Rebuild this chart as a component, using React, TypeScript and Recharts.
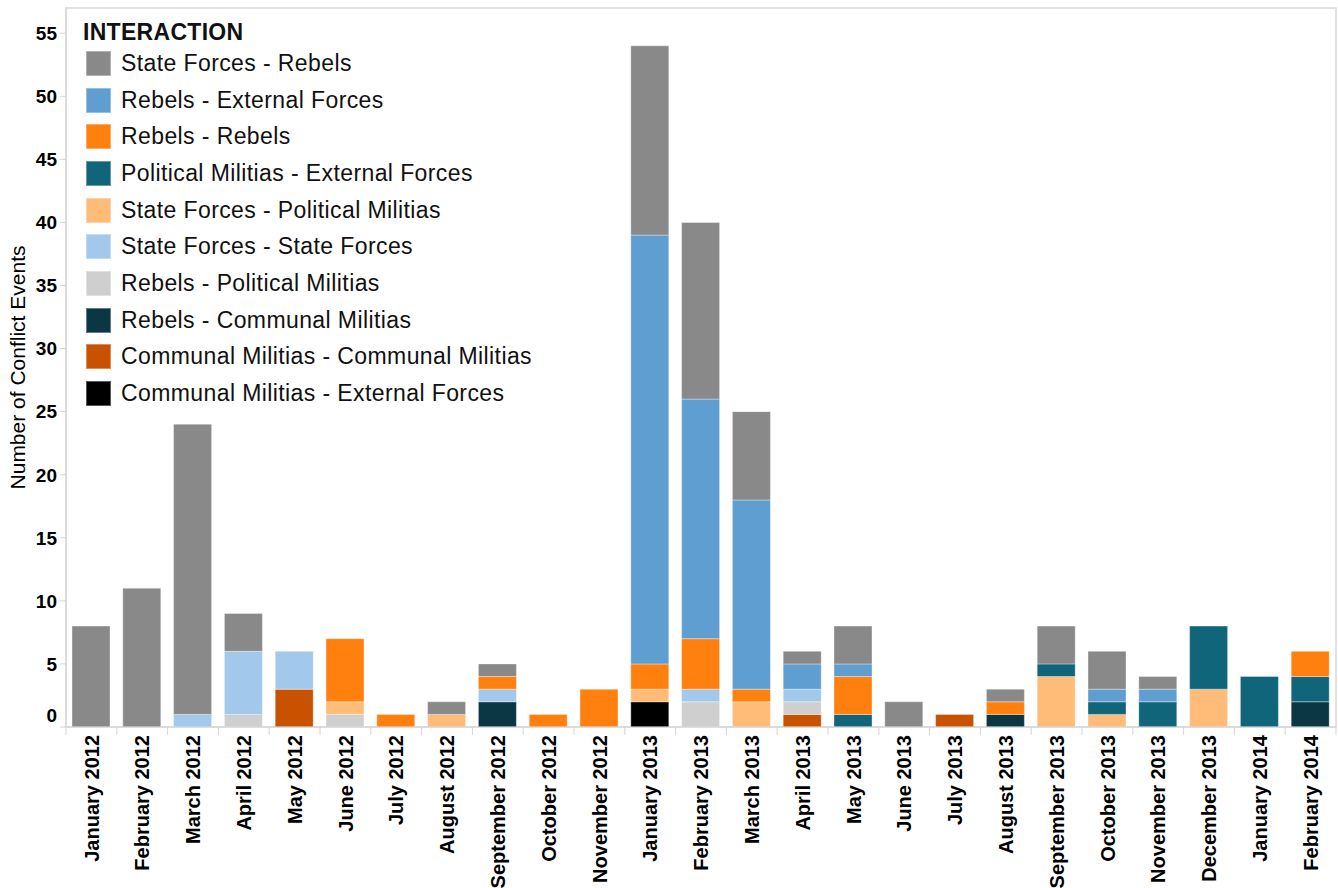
import React from 'react'
import { BarChart, Bar, XAxis, YAxis, Legend, ReferenceArea, Label } from 'recharts'

// months shown on the axis (no December 2012 in the source)
const months = [
  'January 2012', 'February 2012', 'March 2012', 'April 2012', 'May 2012', 'June 2012',
  'July 2012', 'August 2012', 'September 2012', 'October 2012', 'November 2012',
  'January 2013', 'February 2013', 'March 2013', 'April 2013', 'May 2013', 'June 2013',
  'July 2013', 'August 2013', 'September 2013', 'October 2013', 'November 2013',
  'December 2013', 'January 2014', 'February 2014',
]

const stateRebels = [8, 11, 23, 3, 0, 0, 0, 1, 1, 0, 0, 15, 14, 7, 1, 3, 2, 0, 1, 3, 3, 1, 0, 0, 0]
const rebelsExternal = [0, 0, 0, 0, 0, 0, 0, 0, 0, 0, 0, 34, 19, 15, 2, 1, 0, 0, 0, 0, 1, 1, 0, 0, 0]
const rebelsRebels = [0, 0, 0, 0, 0, 5, 1, 0, 1, 1, 3, 2, 4, 1, 0, 3, 0, 0, 1, 0, 0, 0, 0, 0, 2]
const politicalExternal = [0, 0, 0, 0, 0, 0, 0, 0, 0, 0, 0, 0, 0, 0, 0, 1, 0, 0, 0, 1, 1, 2, 5, 4, 2]
const statePolitical = [0, 0, 0, 0, 0, 1, 0, 1, 0, 0, 0, 1, 0, 2, 0, 0, 0, 0, 0, 4, 1, 0, 3, 0, 0]
const stateState = [0, 0, 1, 5, 3, 0, 0, 0, 1, 0, 0, 0, 1, 0, 1, 0, 0, 0, 0, 0, 0, 0, 0, 0, 0]
const rebelsPolitical = [0, 0, 0, 1, 0, 1, 0, 0, 0, 0, 0, 0, 2, 0, 1, 0, 0, 0, 0, 0, 0, 0, 0, 0, 0]
const rebelsCommunal = [0, 0, 0, 0, 0, 0, 0, 0, 2, 0, 0, 0, 0, 0, 0, 0, 0, 0, 1, 0, 0, 0, 0, 0, 2]
const communalCommunal = [0, 0, 0, 0, 3, 0, 0, 0, 0, 0, 0, 0, 0, 0, 1, 0, 0, 1, 0, 0, 0, 0, 0, 0, 0]
const communalExternal = [0, 0, 0, 0, 0, 0, 0, 0, 0, 0, 0, 2, 0, 0, 0, 0, 0, 0, 0, 0, 0, 0, 0, 0, 0]

const yTicks = [0, 5, 10, 15, 20, 25, 30, 35, 40, 45, 50, 55]

// legend order (top to bottom); stacks are drawn in reverse
const series = [
  { key: 'sfReb', name: 'State Forces - Rebels', color: '#898989', values: stateRebels },
  { key: 'rebExt', name: 'Rebels - External Forces', color: '#5F9ED1', values: rebelsExternal },
  { key: 'rebReb', name: 'Rebels - Rebels', color: '#FF800E', values: rebelsRebels },
  { key: 'pmExt', name: 'Political Militias - External Forces', color: '#10657A', values: politicalExternal },
  { key: 'sfPm', name: 'State Forces - Political Militias', color: '#FFBC79', values: statePolitical },
  { key: 'sfSf', name: 'State Forces - State Forces', color: '#A2C8EC', values: stateState },
  { key: 'rebPm', name: 'Rebels - Political Militias', color: '#CFCFCF', values: rebelsPolitical },
  { key: 'rebCm', name: 'Rebels - Communal Militias', color: '#0B3644', values: rebelsCommunal },
  { key: 'cmCm', name: 'Communal Militias - Communal Militias', color: '#C85200', values: communalCommunal },
  { key: 'cmExt', name: 'Communal Militias - External Forces', color: '#000000', values: communalExternal },
]

const data = months.map((m, i) => {
  const row: Record<string, any> = { month: m }
  series.forEach((s) => { row[s.key] = s.values[i] })
  return row
})

const FONT = '"Liberation Sans", Arial, sans-serif'

const renderMonthTick = (props: any) => {
  const { x, y, payload, index } = props
  const half = payload && payload.offset ? payload.offset : 25.4
  const last = index === months.length - 1
  return (
    <g key={`m-${index}`}>
      <line x1={x - half} x2={x - half} y1={y - 8} y2={y} stroke="#d4d4d4" />
      {last && <line x1={x + half} x2={x + half} y1={y - 8} y2={y} stroke="#d4d4d4" />}
      <text
        x={x}
        y={y}
        dy="0.36em"
        transform={`rotate(-90, ${x}, ${y})`}
        textAnchor="end"
        fontFamily={FONT}
        fontWeight="bold"
        fontSize={20}
        fill="#000"
      >
        {payload.value}
      </text>
    </g>
  )
}

const renderCountTick = (props: any) => {
  const { x, y, payload, index } = props
  return (
    <text
      key={`c-${index}`}
      x={x}
      y={payload.value === 0 ? y - 12 : y}
      dy="0.36em"
      textAnchor="end"
      fontFamily={FONT}
      fontWeight="bold"
      fontSize={19}
      fill="#000"
    >
      {payload.value}
    </text>
  )
}

const renderLegend = () => (
  <div style={{ fontFamily: FONT, color: '#111' }}>
    <div style={{ fontWeight: 'bold', fontSize: 23, letterSpacing: 0.3, lineHeight: '26px', marginLeft: -3 }}>INTERACTION</div>
    {series.map((s) => (
      <div key={s.key} style={{ display: 'flex', alignItems: 'center', height: 36.7 }}>
        <div style={{ width: 25, height: 25, background: s.color, boxShadow: 'inset 0 0 0 1px rgba(255,255,255,0.35)' }} />
        <span style={{ fontSize: 23, letterSpacing: 0.4, marginLeft: 10 }}>{s.name}</span>
      </div>
    ))}
  </div>
)

export default function App() {
  const stackOrder = [...series].reverse()
  return (
    <div style={{ position: 'absolute', left: 0, top: 0, background: '#fff' }}>
      <BarChart
        width={1338}
        height={888}
        data={data}
        margin={{ top: 8, right: 2, left: 0, bottom: 0 }}
        barSize={38}
      >
        <ReferenceArea y1={0} y2={57} fill="none" stroke="#e2e2e2" strokeWidth={2} ifOverflow="visible" />
        <XAxis
          dataKey="month"
          interval={0}
          height={161}
          tickLine={false}
          tickSize={8}
          tickMargin={0}
          axisLine={{ stroke: '#d4d4d4' }}
          tick={renderMonthTick}
        />
        <YAxis
          width={66}
          domain={[0, 57]}
          ticks={yTicks}
          tickSize={6}
          tickMargin={3}
          tickLine={{ stroke: '#d4d4d4' }}
          axisLine={{ stroke: '#d4d4d4' }}
          tick={renderCountTick}
        >
          <Label
            value="Number of Conflict Events"
            angle={-90}
            position="insideLeft"
            offset={18}
            style={{ textAnchor: 'middle', fontFamily: FONT, fontSize: 21, fill: '#000' }}
          />
        </YAxis>
        <Legend
          layout="vertical"
          align="center"
          verticalAlign="middle"
          wrapperStyle={{ position: 'absolute', left: 86, top: 19, width: 480, height: 400 }}
          content={renderLegend}
        />
        {stackOrder.map((s) => (
          <Bar
            key={s.key}
            dataKey={s.key}
            name={s.name}
            stackId="events"
            fill={s.color}
            stroke="#ffffff"
            strokeOpacity={0.35}
            strokeWidth={1}
            isAnimationActive={false}
          />
        ))}
      </BarChart>
    </div>
  )
}
